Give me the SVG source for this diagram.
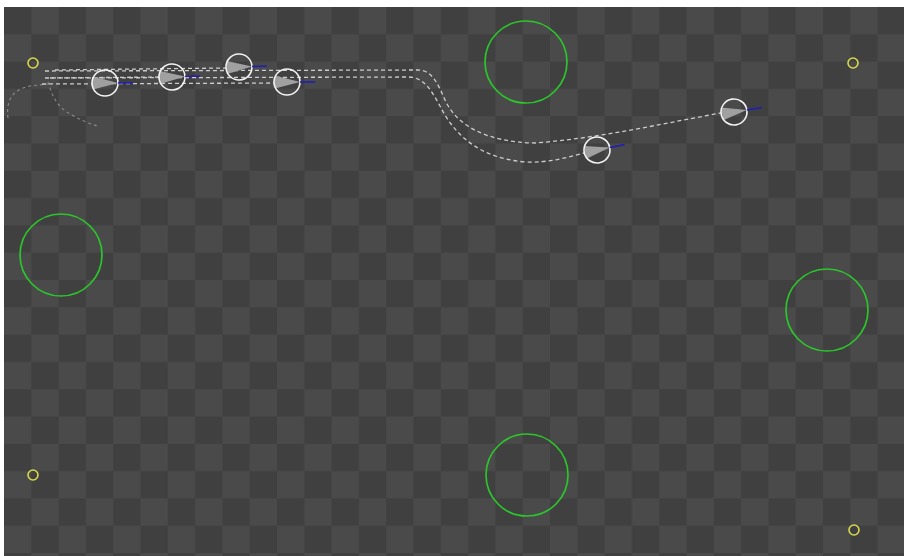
<svg xmlns="http://www.w3.org/2000/svg" width="904" height="556" viewBox="0 0 904 556">
  <style>
    .obstacle { fill: none; stroke: #2bc62b; stroke-width: 1.7; }
    .goal { fill: none; stroke: #d8d84e; stroke-width: 1.6; }
    .trail { fill: none; stroke: #cdcdcd; stroke-width: 1.3; stroke-dasharray: 4 3; }
    .trail-faint { fill: none; stroke: #8a8a8a; stroke-width: 1.1; stroke-dasharray: 3 3; }
    .body { fill: none; stroke: #f2f2f2; stroke-width: 1.6; }
    .cone { fill: #a0a0a0; }
    .heading { stroke: #2020b0; stroke-width: 1.6; }
  </style>
  <defs>
    <pattern id="checker" x="4" y="7" width="54.6" height="54.6" patternUnits="userSpaceOnUse">
      <rect x="0" y="0" width="54.6" height="54.6" fill="#4a4a4a"/>
      <rect x="0" y="0" width="27.3" height="27.3" fill="#404040"/>
      <rect x="27.3" y="27.3" width="27.3" height="27.3" fill="#404040"/>
    </pattern>
    <g id="agent">
      <polygon class="cone" points="13,0 -12,-6.5 -12,6.5"/>
      <circle class="body" cx="0" cy="0" r="13"/>
      <line class="heading" x1="13" y1="0" x2="28" y2="0"/>
    </g>
  </defs>

  <rect x="0" y="0" width="904" height="556" fill="#ffffff"/>
  <rect x="4" y="7" width="900" height="549" fill="url(#checker)"/>

  <g id="obstacles">
    <circle id="obstacle-top" class="obstacle" cx="526" cy="62" r="41"/>
    <circle id="obstacle-left" class="obstacle" cx="61" cy="255" r="41"/>
    <circle id="obstacle-right" class="obstacle" cx="827" cy="310" r="41"/>
    <circle id="obstacle-bottom" class="obstacle" cx="527" cy="475" r="41"/>
  </g>

  <g id="goals">
    <circle id="goal-tl" class="goal" cx="33" cy="63" r="5"/>
    <circle id="goal-tr" class="goal" cx="853" cy="63" r="5"/>
    <circle id="goal-bl" class="goal" cx="33" cy="475" r="5"/>
    <circle id="goal-br" class="goal" cx="854" cy="530" r="5"/>
  </g>

  <g id="connectors">
    <path class="trail-faint" d="M 8 118 C 6 100, 12 90, 30 86 L 48 84"/>
    <path class="trail-faint" d="M 48 82 C 52 95, 56 106, 70 114 C 80 120, 90 124, 98 126"/>
    <path class="trail" d="M 42 84 L 274 83"/>
    <path class="trail" d="M 50 78 L 160 77"/>
    <path class="trail" d="M 55 70 L 226 68"/>
    <path class="trail" d="M 45 71 L 418 70 C 432 70, 438 84, 445 100 C 458 128, 490 142, 535 143 C 600 138, 660 124, 721 113"/>
    <path class="trail" d="M 45 78 L 408 77 C 425 77, 432 92, 440 106 C 455 136, 480 158, 525 162 C 550 163, 568 157, 584 153"/>
  </g>

  <g id="agent-1"><use href="#agent" transform="translate(105 83)"/></g>
  <g id="agent-2"><use href="#agent" transform="translate(172 77) rotate(-2)"/></g>
  <g id="agent-3"><use href="#agent" transform="translate(239 67) rotate(-2)"/></g>
  <g id="agent-4"><use href="#agent" transform="translate(287 82)"/></g>
  <g id="agent-5"><use href="#agent" transform="translate(597 150) rotate(-11)"/></g>
  <g id="agent-6"><use href="#agent" transform="translate(734 112) rotate(-9)"/></g>
</svg>
